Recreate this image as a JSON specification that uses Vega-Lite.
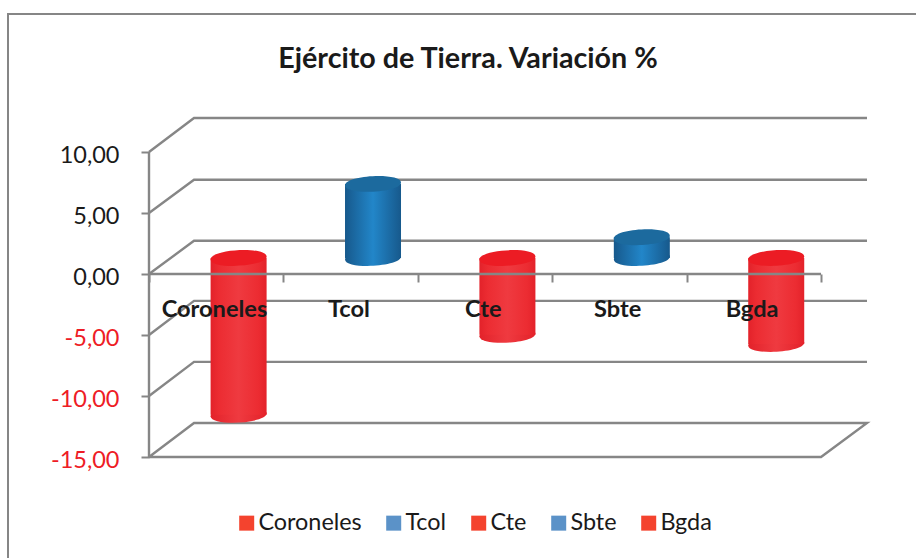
{"$schema":"https://vega.github.io/schema/vega-lite/v6.json","autosize":{"type":"none"},"padding":{"left":149,"top":118,"right":49,"bottom":101},"width":718,"height":339,"background":"white","config":{"view":{"stroke":null},"font":"Lato"},
"title":{"text":"Ejército de Tierra. Variación %","font":"Lato","fontSize":28.7,"fontWeight":"bold","color":"#1a1a1a","anchor":"middle","dx":-40,"offset":-61,"frame":"group"},
"datasets":{
"bars":[{"serie":"Coroneles","pos":0.5,"top":0,"bottom":-12.85},{"serie":"Tcol","pos":1.5,"top":6.07,"bottom":0},{"serie":"Cte","pos":2.5,"top":0,"bottom":-6.3},{"serie":"Sbte","pos":3.5,"top":1.7,"bottom":0},{"serie":"Bgda","pos":4.5,"top":0,"bottom":-7.05}],
"walls":[
{"l":"10","o":0,"x":0,"y":10},{"l":"10","o":1,"x":0.335,"y":12.787},{"l":"10","o":2,"x":5.342,"y":12.787},
{"l":"5","o":0,"x":0,"y":5},{"l":"5","o":1,"x":0.335,"y":7.72},{"l":"5","o":2,"x":5.342,"y":7.72},
{"l":"0","o":0,"x":0,"y":0},{"l":"0","o":1,"x":0.335,"y":2.72},{"l":"0","o":2,"x":5.342,"y":2.72},
{"l":"-5","o":0,"x":0,"y":-5},{"l":"-5","o":1,"x":0.335,"y":-2.2},{"l":"-5","o":2,"x":5.342,"y":-2.2},
{"l":"-10","o":0,"x":0,"y":-10},{"l":"-10","o":1,"x":0.335,"y":-7.2},{"l":"-10","o":2,"x":5.342,"y":-7.2},
{"l":"-15","o":0,"x":0,"y":-15},{"l":"-15","o":1,"x":0.335,"y":-12.21},{"l":"-15","o":2,"x":5.342,"y":-12.21},{"l":"-15","o":3,"x":5,"y":-15},{"l":"-15","o":4,"x":0,"y":-15},
{"l":"eje","o":0,"x":0,"y":10},{"l":"eje","o":1,"x":0,"y":-15}],
"zero":[{"l":"cero","o":0,"x":0,"y":0},{"l":"cero","o":1,"x":5,"y":0}],
"frame":[{"x":-1.049,"x2":6,"y":21.31,"y2":-25}]
},
"layer":[
{"data":{"name":"frame"},"mark":{"type":"rect","fill":null,"stroke":"#868686","strokeWidth":2,"clip":false},"encoding":{"x":{"field":"x","type":"quantitative","scale":{"domain":[0,5.342],"nice":false,"zero":false,"padding":0},"axis":{"title":null,"values":[0,1,2,3,4,5],"domain":false,"grid":false,"orient":"bottom","offset":-183,"tickColor":"#868686","tickWidth":2,"tickSize":8,"labelFont":"Lato","labelFontWeight":"bold","labelFontSize":23.6,"labelColor":"#1a1a1a","labelPadding":15,"labelOffset":65,"labelOverlap":false,"labelBound":false,"labelFlush":false,"zindex":1,"labelExpr":"['Coroneles','Tcol','Cte','Sbte','Bgda',''][datum.value]"}},"x2":{"field":"x2"},"y":{"field":"y","type":"quantitative","scale":{"domain":[-15,12.787],"nice":false,"zero":false},"axis":{"title":null,"values":[-15,-10,-5,0,5,10],"domain":false,"grid":false,"tickColor":"#868686","tickWidth":2,"tickSize":8,"labelFont":"Lato","labelFontSize":23.5,"labelPadding":22,"labelOffset":3,"labelOverlap":false,"labelBound":false,"labelFlush":false,"labelColor":{"condition":{"test":"datum.value<0","value":"#ee1c25"},"value":"#1a1a1a"},"labelExpr":"replace(replace(format(datum.value,'.2f'),'.',','),'−','-')"}},"y2":{"field":"y2"}}},
{"data":{"name":"walls"},"mark":{"type":"line","stroke":"#868686","strokeWidth":2.4,"clip":false},"encoding":{"x":{"field":"x","type":"quantitative"},"y":{"field":"y","type":"quantitative"},"detail":{"field":"l"},"order":{"field":"o"}}},
{"data":{"name":"bars"},"transform":[{"filter":"datum.top==0"}],"mark":{"type":"point","filled":true,"opacity":1,"size":3136,"shape":"M-1,0.05C-1,-0.32,1,-0.42,1,-0.05C1,0.32,-1,0.42,-1,0.05Z","xOffset":22.4,"yOffset":-16,"fill":{"x1":0,"x2":1,"y1":0,"y2":0,"gradient":"linear","stops":[{"offset":0,"color":"#e3222a"},{"offset":0.5,"color":"#ef3a40"},{"offset":1,"color":"#e3222a"}]}},"encoding":{"x":{"field":"pos","type":"quantitative"},"y":{"field":"bottom","type":"quantitative"}}},
{"data":{"name":"bars"},"transform":[{"filter":"datum.top>0"}],"mark":{"type":"point","filled":true,"opacity":1,"size":3136,"shape":"M-1,0.05C-1,-0.32,1,-0.42,1,-0.05C1,0.32,-1,0.42,-1,0.05Z","xOffset":22.4,"yOffset":-16,"fill":{"x1":0,"x2":1,"y1":0,"y2":0,"gradient":"linear","stops":[{"offset":0,"color":"#17598c"},{"offset":0.5,"color":"#2286c9"},{"offset":1,"color":"#17598c"}]}},"encoding":{"x":{"field":"pos","type":"quantitative"},"y":{"field":"bottom","type":"quantitative"}}},
{"data":{"name":"bars"},"transform":[{"filter":"datum.top==0"}],"mark":{"type":"bar","width":56,"xOffset":22.4,"yOffset":-16,"y2Offset":-16,"color":{"x1":0,"x2":1,"y1":0,"y2":0,"gradient":"linear","stops":[{"offset":0,"color":"#e3222a"},{"offset":0.15,"color":"#ec2c32"},{"offset":0.5,"color":"#ef3a40"},{"offset":0.85,"color":"#ec2c32"},{"offset":1,"color":"#e3222a"}]}},"encoding":{"x":{"field":"pos","type":"quantitative"},"y":{"field":"top","type":"quantitative"},"y2":{"field":"bottom"}}},
{"data":{"name":"bars"},"transform":[{"filter":"datum.top>0"}],"mark":{"type":"bar","width":56,"xOffset":22.4,"yOffset":-16,"y2Offset":-16,"color":{"x1":0,"x2":1,"y1":0,"y2":0,"gradient":"linear","stops":[{"offset":0,"color":"#17598c"},{"offset":0.5,"color":"#2286c9"},{"offset":1,"color":"#17598c"}]}},"encoding":{"x":{"field":"pos","type":"quantitative"},"y":{"field":"top","type":"quantitative"},"y2":{"field":"bottom"}}},
{"data":{"name":"bars"},"transform":[{"filter":"datum.top==0"}],"mark":{"type":"point","filled":true,"opacity":1,"size":3136,"fill":"#ec1c24","shape":"M-1,0.05C-1,-0.32,1,-0.42,1,-0.05C1,0.32,-1,0.42,-1,0.05Z","xOffset":22.4,"yOffset":-16},"encoding":{"x":{"field":"pos","type":"quantitative"},"y":{"field":"top","type":"quantitative"}}},
{"data":{"name":"bars"},"transform":[{"filter":"datum.top>0"}],"mark":{"type":"point","filled":true,"opacity":1,"size":3136,"fill":"#1c6a9e","shape":"M-1,0.05C-1,-0.32,1,-0.42,1,-0.05C1,0.32,-1,0.42,-1,0.05Z","xOffset":22.4,"yOffset":-16},"encoding":{"x":{"field":"pos","type":"quantitative"},"y":{"field":"top","type":"quantitative"}}},
{"data":{"name":"zero"},"mark":{"type":"line","stroke":"#868686","strokeWidth":2.4,"clip":false},"encoding":{"x":{"field":"x","type":"quantitative"},"y":{"field":"y","type":"quantitative"},"order":{"field":"o"}}},
{"data":{"name":"bars"},"mark":{"type":"point","filled":true,"size":1,"opacity":0},"encoding":{"x":{"field":"pos","type":"quantitative"},"y":{"field":"top","type":"quantitative"},"color":{"field":"serie","type":"nominal","scale":{"domain":["Coroneles","Tcol","Cte","Sbte","Bgda"],"range":["#f4432e","#5b92c8","#f4432e","#5b92c8","#f4432e"]},"legend":{"title":null,"orient":"none","legendX":86,"legendY":393,"direction":"horizontal","columns":5,"symbolType":"square","symbolSize":225,"symbolOpacity":1,"symbolStrokeWidth":0,"labelFont":"Lato","labelFontSize":23.4,"labelColor":"#1a1a1a","labelOffset":0,"columnPadding":20}}}}
]}
